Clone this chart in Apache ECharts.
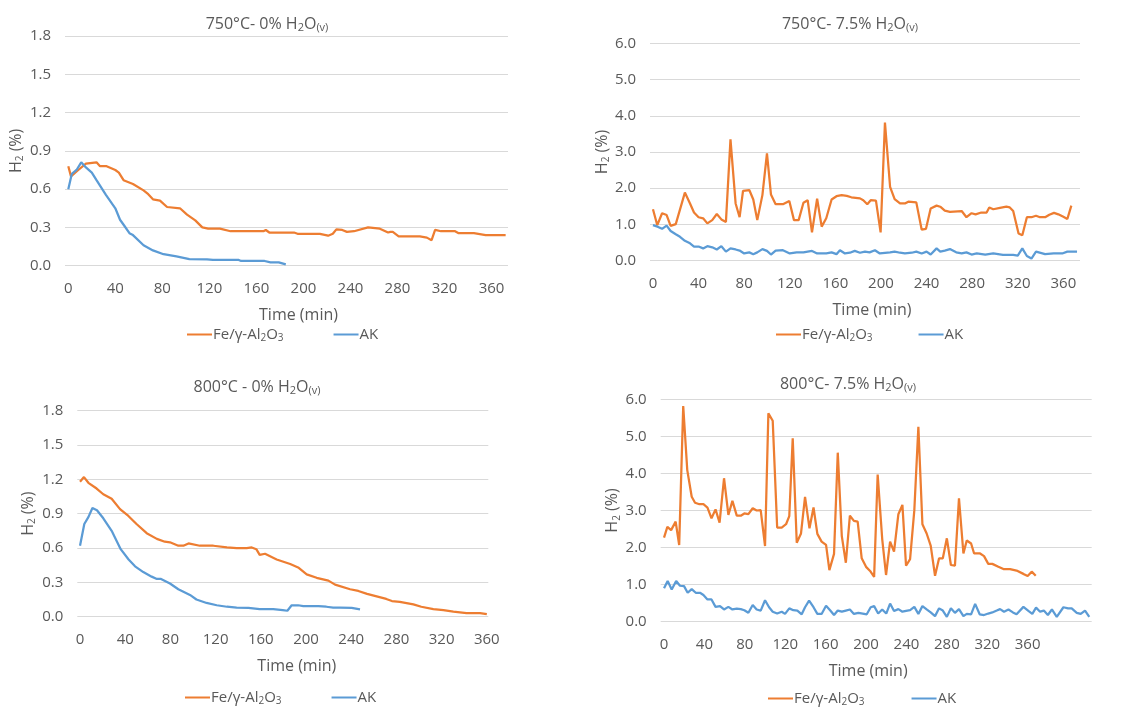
<!DOCTYPE html>
<html><head><meta charset="utf-8">
<script src="https://cdn.jsdelivr.net/npm/echarts@6/dist/echarts.min.js"></script>
<style>html,body{margin:0;padding:0;background:#fff}#c{width:1143px;height:708px}</style>
</head><body><div id="c"></div>
<script>
// ---- tick labels ----
const xTicks = [0, 40, 80, 120, 160, 200, 240, 280, 320, 360];
const yTicksDry = [0, 0.3, 0.6, 0.9, 1.2, 1.5, 1.8];
const yTicksWet = [0, 1, 2, 3, 4, 5, 6];
const seriesNames = ['Fe/γ-Al2O3', 'AK'];

// ---- 750 °C, 0 % H2O : [time (min), H2 (%)] ----
const fe750dry = [[0,0.78],[2.3,0.70],[8.5,0.75],[15,0.80],[24,0.81],[27,0.78],[32.6,0.78],[40,0.75],[43,0.73],[47,0.67],[55,0.64],[64,0.59],[68,0.56],[72,0.52],[78,0.51],[84,0.46],[95,0.45],[101,0.40],[108,0.355],[114,0.30],[119,0.29],[129,0.29],[138,0.27],[166,0.27],[168,0.28],[171,0.26],[192,0.26],[195,0.25],[214,0.25],[221,0.235],[225,0.25],[228,0.285],[233,0.28],[237,0.265],[243,0.27],[255,0.30],[265,0.29],[272,0.26],[274,0.265],[276,0.265],[281,0.23],[299,0.23],[305,0.22],[309,0.20],[312,0.28],[317,0.27],[329,0.27],[332,0.255],[345,0.255],[355,0.24],[372,0.24]];
const ak750dry = [[0,0.60],[3,0.72],[7,0.75],[11,0.81],[15,0.77],[20,0.73],[24,0.67],[32,0.555],[40,0.45],[44,0.36],[47.5,0.315],[52,0.255],[55,0.24],[64,0.16],[72,0.12],[81,0.09],[92,0.073],[103,0.052],[118,0.05],[123,0.045],[145,0.045],[147,0.037],[167,0.037],[172,0.026],[179,0.026],[185,0.01]];

// ---- 750 °C, 7.5 % H2O ----
const fe750wet = [[0,1.42],[3.8,0.98],[8,1.31],[12,1.26],[15.5,0.96],[20,1.01],[28,1.88],[32.5,1.58],[36,1.33],[40,1.20],[44,1.17],[47.7,1.03],[52,1.12],[56,1.29],[60,1.14],[64,1.07],[68,3.35],[72.5,1.58],[76,1.20],[79,1.93],[84.5,1.95],[88,1.69],[91.5,1.12],[96,1.81],[100,2.96],[103.5,1.83],[107.6,1.56],[114,1.56],[119.6,1.65],[123.7,1.12],[127.8,1.12],[132,1.60],[135.7,1.67],[139.5,0.78],[144,1.71],[148,0.94],[152,1.17],[156.7,1.69],[161,1.78],[165.5,1.81],[170,1.79],[174,1.75],[181.6,1.72],[184.5,1.67],[188,1.56],[191,1.67],[195.6,1.66],[199.7,0.78],[203.5,3.81],[208,2.04],[212,1.70],[216.7,1.58],[221,1.58],[224,1.63],[231,1.61],[235.7,0.86],[239.5,0.88],[243.6,1.44],[248.8,1.52],[252,1.49],[256,1.38],[260.5,1.35],[270.8,1.37],[275,1.20],[279.5,1.31],[283,1.28],[288,1.33],[292.7,1.33],[295,1.47],[298.5,1.42],[304.4,1.46],[310,1.49],[313,1.47],[316,1.37],[320.7,0.75],[324,0.70],[328,1.20],[332,1.20],[336,1.24],[339.5,1.20],[344,1.20],[347.7,1.27],[351.8,1.32],[355.6,1.28],[360,1.21],[363.5,1.15],[367,1.52]];
const ak750wet = [[0,0.98],[4,0.94],[8,0.88],[12,0.97],[15.5,0.82],[20,0.73],[23.7,0.66],[28,0.55],[32.5,0.48],[36,0.39],[40,0.39],[44,0.34],[47.7,0.40],[52,0.37],[56,0.31],[60,0.40],[64,0.25],[68,0.34],[72.5,0.31],[76,0.28],[80,0.20],[84.5,0.23],[88,0.18],[91.5,0.23],[96,0.32],[100,0.27],[103.5,0.17],[107.6,0.28],[114,0.29],[120,0.20],[126,0.23],[132,0.23],[135.7,0.25],[139.5,0.27],[144,0.20],[152,0.20],[156.7,0.23],[161,0.18],[164,0.29],[168.4,0.20],[172.8,0.22],[177,0.27],[181.6,0.22],[186,0.25],[190,0.23],[194.7,0.29],[199,0.20],[208,0.23],[212,0.25],[216.7,0.22],[221,0.20],[227,0.22],[231,0.25],[235.7,0.20],[240,0.25],[243.6,0.17],[248.8,0.34],[252,0.25],[256,0.28],[260.5,0.32],[266,0.23],[270.8,0.20],[275,0.23],[279.5,0.17],[284,0.20],[291.5,0.17],[298.5,0.20],[307,0.16],[316,0.16],[320,0.14],[324,0.34],[328,0.13],[332,0.06],[336,0.25],[344,0.18],[351.5,0.20],[359,0.20],[363.5,0.25],[372,0.25]];

// ---- 800 °C, 0 % H2O ----
const fe800dry = [[0,1.18],[3.5,1.22],[7.4,1.17],[14.7,1.12],[20.6,1.07],[28,1.03],[35.4,0.94],[42.8,0.88],[50,0.81],[59,0.73],[68,0.68],[75,0.655],[79.6,0.65],[87,0.62],[91.5,0.62],[96,0.64],[106,0.62],[118,0.62],[130,0.605],[138.6,0.60],[147.5,0.60],[152,0.605],[156,0.59],[159,0.54],[163.7,0.55],[174,0.50],[186,0.46],[193,0.43],[200.6,0.37],[209.4,0.34],[219.8,0.315],[225.7,0.28],[239,0.24],[246.3,0.225],[254,0.20],[271,0.155],[276,0.137],[283,0.13],[295,0.108],[302,0.087],[312.7,0.067],[321.6,0.058],[330.4,0.044],[342,0.032],[354,0.032],[360,0.023]];
const ak800dry = [[0,0.62],[3.8,0.81],[7.4,0.87],[11,0.95],[15,0.93],[20.6,0.86],[28,0.75],[36,0.59],[43,0.50],[48.7,0.44],[56,0.39],[63.4,0.35],[68,0.33],[71.7,0.33],[79.6,0.29],[87,0.24],[97.3,0.19],[103,0.15],[112,0.12],[121,0.10],[130,0.087],[138.6,0.08],[149,0.078],[159,0.067],[171,0.067],[179.4,0.058],[183.5,0.052],[187.3,0.10],[193,0.10],[197.6,0.093],[211,0.093],[218,0.087],[224,0.08],[230,0.08],[240.4,0.078],[247.8,0.064]];

// ---- 800 °C, 7.5 % H2O ----
const fe800wet = [[0,2.27],[3.3,2.56],[7,2.47],[11.5,2.70],[15,2.07],[19,5.82],[23,4.09],[27.4,3.37],[30.7,3.21],[35,3.17],[39,3.17],[43,3.08],[47,2.79],[51,3.03],[55,2.67],[59.4,3.87],[63.7,2.88],[67.7,3.26],[72,2.86],[76,2.86],[79.5,2.92],[83.5,2.90],[87.8,3.06],[91.7,3.0],[95.7,3.01],[100,2.04],[103.3,5.62],[107.6,5.42],[112,2.54],[116.5,2.54],[120.8,2.63],[124,2.85],[127.4,4.95],[131.4,2.13],[135.6,2.38],[139.6,3.37],[144,2.52],[148,3.08],[151.8,2.37],[156,2.16],[160.4,2.07],[163.7,1.39],[168.3,1.83],[172,4.56],[176,2.31],[180,1.59],[184,2.86],[188,2.72],[191.7,2.70],[195.7,1.71],[200,1.48],[204,1.37],[208,1.21],[211.5,3.97],[216,2.23],[219.8,1.26],[223.8,2.16],[227.7,1.89],[232,2.90],[236,3.15],[239.6,1.51],[243.6,1.69],[247.8,3.01],[251.8,5.26],[255.8,2.63],[260,2.38],[264,2.05],[268.3,1.24],[272.3,1.71],[276,1.71],[280,2.25],[284,1.53],[288,1.51],[292,3.33],[296.4,1.84],[299.7,2.19],[304,2.11],[307,1.84],[312.9,1.84],[316.8,1.77],[321,1.56],[325,1.56],[331,1.48],[336,1.42],[342.6,1.42],[349,1.38],[355.8,1.29],[360,1.23],[364,1.35],[368,1.24]];
const ak800wet = [[0,0.90],[3.6,1.10],[7.6,0.87],[12,1.10],[15.8,0.97],[19.8,0.96],[23.4,0.78],[27.4,0.88],[31.4,0.78],[35.6,0.78],[39,0.72],[43,0.60],[47,0.60],[51,0.40],[55.4,0.42],[59.4,0.33],[63.7,0.40],[67.7,0.33],[72,0.35],[76,0.34],[79.5,0.31],[83.5,0.24],[87.8,0.45],[91.7,0.33],[95.7,0.30],[100,0.58],[104,0.39],[107.6,0.27],[112,0.22],[116.5,0.27],[119.8,0.21],[124,0.36],[128,0.31],[132,0.30],[136.3,0.20],[139.6,0.39],[143.6,0.57],[148,0.39],[151.8,0.21],[156,0.21],[160.4,0.43],[164.4,0.31],[168.3,0.18],[172,0.30],[176,0.27],[180,0.30],[184,0.33],[188,0.21],[192.4,0.24],[196.7,0.22],[200.7,0.20],[204.6,0.39],[208,0.42],[212,0.22],[216,0.33],[220,0.22],[223.8,0.49],[227.7,0.29],[232,0.34],[236,0.27],[239.6,0.29],[243.6,0.31],[247.8,0.40],[251.8,0.21],[255.8,0.42],[260,0.33],[264,0.25],[268.3,0.15],[272.3,0.36],[276,0.30],[280,0.13],[284,0.36],[288,0.24],[292,0.34],[296.4,0.15],[299.7,0.21],[304,0.20],[308,0.48],[312.5,0.20],[316.8,0.18],[321,0.22],[325,0.25],[329.4,0.30],[332.7,0.34],[336.6,0.27],[341,0.33],[345.4,0.25],[349,0.20],[355.8,0.40],[360.7,0.29],[364.6,0.21],[368.3,0.38],[372.3,0.27],[376,0.30],[380,0.18],[384,0.33],[388.8,0.13],[395.4,0.39],[400,0.36],[403.6,0.36],[408.6,0.24],[412.5,0.21],[416.8,0.30],[421,0.13]];

// ---- layout (styles / positions, not data) ----
const FONT = '"Open Sans", "Noto Sans", sans-serif';
const TXT = '#595959';
const ORANGE = '#ED7D31', BLUE = '#5B9BD5';
const panels = [
  {title:'750°C- 0% H{s|2}O{s|(v)}', fe:fe750dry, ak:ak750dry, yT:yTicksDry,
   g:{left:65, top:36, right:1143-508, bottom:708-265.7}, xMin:-2.8, xMax:374, tx:267, ty:24, lx:182, ly:322, gap:50, nameDx:12},
  {title:'750°C- 7.5% H{s|2}O{s|(v)}', fe:fe750wet, ak:ak750wet, yT:yTicksWet,
   g:{left:650, top:43.3, right:1143-1080, bottom:708-260.7}, xMin:-2.6, xMax:374.6, tx:850, ty:24, lx:771, ly:322, gap:46, nameDx:7},
  {title:'800°C - 0% H{s|2}O{s|(v)}', fe:fe800dry, ak:ak800dry, yT:yTicksDry,
   g:{left:77.3, top:410.7, right:1143-488.3, bottom:708-616.7}, xMin:-2.4, xMax:361.3, tx:257, ty:387, lx:180, ly:685, gap:50, nameDx:14},
  {title:'800°C- 7.5% H{s|2}O{s|(v)}', fe:fe800wet, ak:ak800wet, yT:yTicksWet,
   g:{left:660.7, top:399.3, right:1143-1091.7, bottom:708-621.7}, xMin:-3.3, xMax:423.4, tx:848, ty:384, lx:763, ly:686, gap:47, nameDx:-8}
];

const richSub = { s: { fontSize: 10, padding: [8, 0, 0, 0], color: TXT, fontFamily: FONT } };

const option = { animation:false, backgroundColor:'#fff', grid:[], xAxis:[], yAxis:[], series:[], legend:[], graphic:[] };
panels.forEach((p, i) => {
  option.grid.push(Object.assign({containLabel:false}, p.g));
  const yMax = p.yT[p.yT.length-1];
  const yInt = p.yT[1] - p.yT[0];
  option.xAxis.push({
    type:'value', gridIndex:i, min:p.xMin, max:p.xMax,
    axisLine:{show:false}, axisTick:{show:false}, splitLine:{show:false},
    axisLabel:{customValues:xTicks, color:TXT, fontSize:15, fontFamily:FONT, margin:16},
    name:'Time (min)', nameLocation:'middle', nameGap:42,
    nameTextStyle:{color:TXT, fontSize:16, fontFamily:FONT, padding:p.nameDx>0?[0,0,0,2*p.nameDx]:[0,-2*p.nameDx,0,0]}
  });
  option.yAxis.push({
    type:'value', gridIndex:i, min:0, max:yMax, interval:yInt,
    axisLine:{show:false}, axisTick:{show:false},
    splitLine:{lineStyle:{color:'#d9d9d9', width:1}},
    axisLabel:{color:TXT, fontSize:15, fontFamily:FONT, margin:14, formatter:v=>v.toFixed(1)},
    name:'H{s|2} (%)', nameLocation:'middle', nameRotate:90, nameGap: i%2===0 ? 40 : 36,
    nameTextStyle:{color:TXT, fontSize:16, fontFamily:FONT, rich:richSub}
  });
  option.series.push({
    name:seriesNames[0], type:'line', xAxisIndex:i, yAxisIndex:i, data:p.fe,
    symbol:'none', lineStyle:{color:ORANGE, width:2.25}, itemStyle:{color:ORANGE}
  });
  option.series.push({
    name:seriesNames[1], type:'line', xAxisIndex:i, yAxisIndex:i, data:p.ak,
    symbol:'none', lineStyle:{color:BLUE, width:2.25}, itemStyle:{color:BLUE}
  });
  option.legend.push({
    data:seriesNames, left:p.lx, top:p.ly, itemWidth:25, itemHeight:12, itemGap:p.gap,
    icon:'path://M0,5 L25,5 L25,7 L0,7 Z',
    textStyle:{color:TXT, fontSize:15, fontFamily:FONT, padding:[0,0,0,-4], rich:richSub},
    formatter: n => n === seriesNames[0] ? 'Fe/γ-Al{s|2}O{s|3}' : n,
    selectedMode:false
  });
  option.graphic.push({
    type:'text', x:p.tx, y:p.ty,
    style:{text:p.title, fill:TXT, font:'16px ' + FONT, align:'center', verticalAlign:'middle',
      rich:{s:{fontSize:11, padding:[8,0,0,0], fill:TXT, fontFamily:FONT}}}
  });
});

const chart = echarts.init(document.getElementById('c'), null, {renderer:'canvas'});
chart.setOption(option);
</script></body></html>
